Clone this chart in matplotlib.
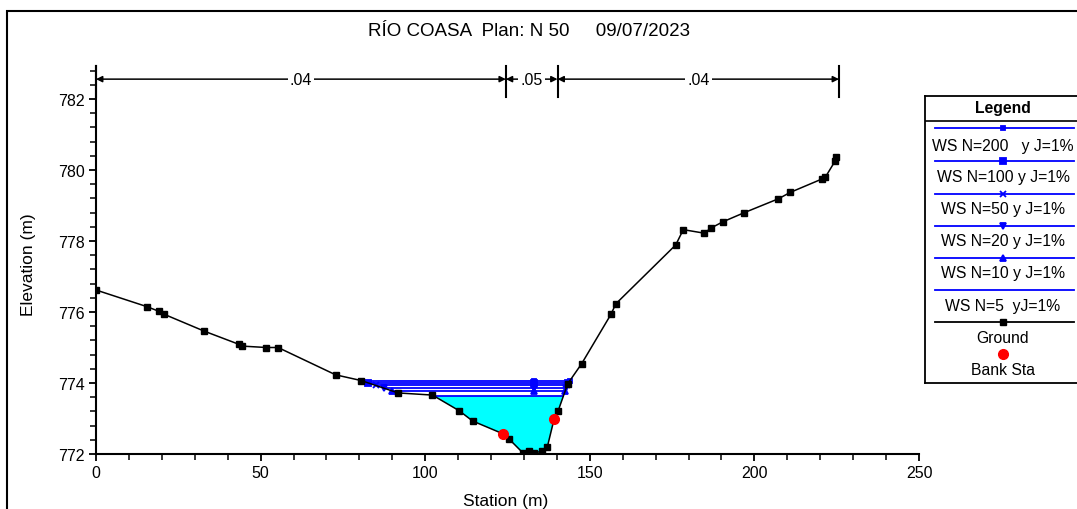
import numpy as np
import matplotlib
matplotlib.use("Agg")
import matplotlib.pyplot as plt
from matplotlib.patches import Rectangle

plt.rcParams['font.family'] = ['Liberation Sans', 'DejaVu Sans']

# ---------------- data ----------------
title = "RÍO COASA  Plan: N 50     09/07/2023"
ground_sta = [0.0, 15.5, 19.1, 20.6, 32.9, 43.4, 44.3, 51.7, 55.3, 72.8, 80.5,
              91.8, 102.2, 110.3, 114.4, 123.6, 125.5, 129.8, 131.6, 133.0, 135.4,
              137.1, 139.2, 140.4, 143.3, 147.5, 156.4, 157.9, 176.1, 178.4,
              184.8, 186.7, 190.4, 196.7, 207.3, 210.9, 220.6, 221.5, 224.5, 224.7]
ground_elev = [776.62, 776.15, 776.02, 775.94, 775.46, 775.09, 775.04, 775.00,
               775.00, 774.23, 774.07, 773.72, 773.66, 773.22, 772.93, 772.57,
               772.42, 772.02, 772.08, 772.02, 772.08, 772.20, 773.00, 773.22,
               773.98, 774.54, 775.93, 776.23, 777.89, 778.32, 778.22, 778.36,
               778.54, 778.79, 779.19, 779.37, 779.75, 779.79, 780.25, 780.37]
bank_sta = [123.6, 139.2]
bank_elev = [772.57, 773.00]
ws_names = ["WS N=200   y J=1%", "WS N=100 y J=1%", "WS N=50 y J=1%",
            "WS N=20 y J=1%", "WS N=10 y J=1%", "WS N=5  yJ=1%"]
ws_elev = [774.07, 774.00, 773.93, 773.85, 773.78, 773.63]
ws_markers = ['s', 's', 'x', 'v', '^', None]
ws_msize = [3.5, 5, 5, 5, 5, 0]
ws_mid_sta = 133.0
n_values = [".04", ".05", ".04"]
n_breaks = [0.0, 124.5, 140.2, 225.7]

# ---------------- figure ----------------
W, H = 1077, 510
fig = plt.figure(figsize=(W / 100, H / 100), dpi=100)

def fx(px):
    return px / W

def fy(py):
    return 1 - py / H

ax = fig.add_axes([fx(96), fy(455), fx(919) - fx(96), fy(67) - fy(455)])
ax.set_xlim(0, 250)
ax.set_ylim(772, 782.93)

gs = np.array(ground_sta)
ge = np.array(ground_elev)
imin = int(np.argmin(ge))

def crossings(level):
    i = imin
    while ge[i - 1] < level:
        i -= 1
    xl = gs[i - 1] + (level - ge[i - 1]) * (gs[i] - gs[i - 1]) / (ge[i] - ge[i - 1])
    li = i
    j = imin
    while ge[j + 1] < level:
        j += 1
    xr = gs[j] + (level - ge[j]) * (gs[j + 1] - gs[j]) / (ge[j + 1] - ge[j])
    return xl, xr, li, j

blue = (0, 0, 1)
# fill for lowest profile
lvl = ws_elev[-1]
xl, xr, li, rj = crossings(lvl)
px = [xl] + list(gs[li:rj + 1]) + [xr]
py = [lvl] + list(ge[li:rj + 1]) + [lvl]
ax.fill(px, py, color=(0, 1, 1), zorder=1, lw=0)

for name, lv, mk, ms in zip(ws_names, ws_elev, ws_markers, ws_msize):
    xl, xr, _, _ = crossings(lv)
    ax.plot([xl, xr], [lv, lv], color=blue, lw=1.3, zorder=3)
    if mk:
        ax.plot([xl, ws_mid_sta, xr], [lv, lv, lv], ls='none', marker=mk,
                color=blue, ms=ms, mew=1.3, zorder=4)

ax.plot(ground_sta, ground_elev, color='black', lw=1.1, marker='s', ms=4.3,
        zorder=5)
ax.plot(bank_sta, bank_elev, ls='none', marker='o', color=(1, 0, 0), ms=7,
        zorder=6)

# roughness bars and arrows
ytop = 782.93
ybot = 782.06
yarr = 782.56
for b in n_breaks:
    ax.plot([b, b], [ybot, ytop], color='black', lw=1.5, clip_on=False, zorder=7)
for k, val in enumerate(n_values):
    a, b = n_breaks[k], n_breaks[k + 1]
    ax.annotate('', xy=(b, yarr), xytext=(a, yarr),
                arrowprops=dict(arrowstyle='<|-|>', color='black', lw=1.1,
                                mutation_scale=9, shrinkA=0, shrinkB=0),
                annotation_clip=False, zorder=7)
    ax.text((a + b) / 2, yarr, val, ha='center', va='center', fontsize=11.5,
            bbox=dict(facecolor='white', edgecolor='none', pad=1.5), zorder=8)

# axes styling
for s in ['top', 'right']:
    ax.spines[s].set_visible(False)
for s in ['left', 'bottom']:
    ax.spines[s].set_linewidth(1.5)
ax.set_xticks([0, 50, 100, 150, 200, 250])
ax.set_xticks(np.arange(0, 251, 10), minor=True)
ax.set_yticks([772, 774, 776, 778, 780, 782])
ax.set_yticks(np.arange(772, 782.9, 0.4), minor=True)
ax.tick_params(axis='both', which='major', direction='out', length=5,
               width=1.3, labelsize=11.5, pad=3)
ax.tick_params(axis='both', which='minor', direction='out', length=4, width=1.1)
ax.set_xlabel("Station (m)", fontsize=12.5)
ax.xaxis.set_label_coords((506 - 96) / 823, (455 - 494) / 388)
ax.set_ylabel("Elevation (m)", fontsize=12.5)
ax.yaxis.set_label_coords((36 - 96) / 823, 0.49)

fig.text(fx(529.5), fy(32), title, ha='center', va='center', fontsize=13.5)

# outer frame
fig.add_artist(Rectangle((fx(7), -0.2), 1.2, fy(12) + 0.2, transform=fig.transFigure,
                         fill=False, edgecolor='black', lw=1.5, clip_on=False))

# legend panel
lax = fig.add_axes([fx(925), fy(384), fx(1080) - fx(925), fy(97) - fy(384)])
lax.set_xlim(925, 1080)
lax.set_ylim(384, 97)
lax.set_xticks([])
lax.set_yticks([])
for s in lax.spines.values():
    s.set_linewidth(1.3)
lax.text(1003, 109, "Legend", ha='center', va='center', fontsize=11.3,
         fontweight='bold')
lax.plot([925, 1080], [122, 122], color='black', lw=1.2)
line_y = [129, 162, 195, 227, 259, 291]
text_y = [147, 178, 210, 242, 274, 307]
for name, mk, ms, ly, ty in zip(ws_names, ws_markers, ws_msize, line_y, text_y):
    lax.plot([935, 1074], [ly, ly], color=blue, lw=1.3)
    if mk:
        lax.plot([1003], [ly], marker=mk, color=blue, ms=ms, mew=1.3)
    lax.text(1003, ty, name, ha='center', va='center', fontsize=11.3)
lax.plot([935, 1074], [323, 323], color='black', lw=1.3)
lax.plot([1003], [323], marker='s', color='black', ms=4.3)
lax.text(1003, 339, "Ground", ha='center', va='center', fontsize=11.3)
lax.plot([1003], [355], marker='o', color=(1, 0, 0), ms=7)
lax.text(1003, 371, "Bank Sta", ha='center', va='center', fontsize=11.3)

fig.savefig("out.png", dpi=100)
